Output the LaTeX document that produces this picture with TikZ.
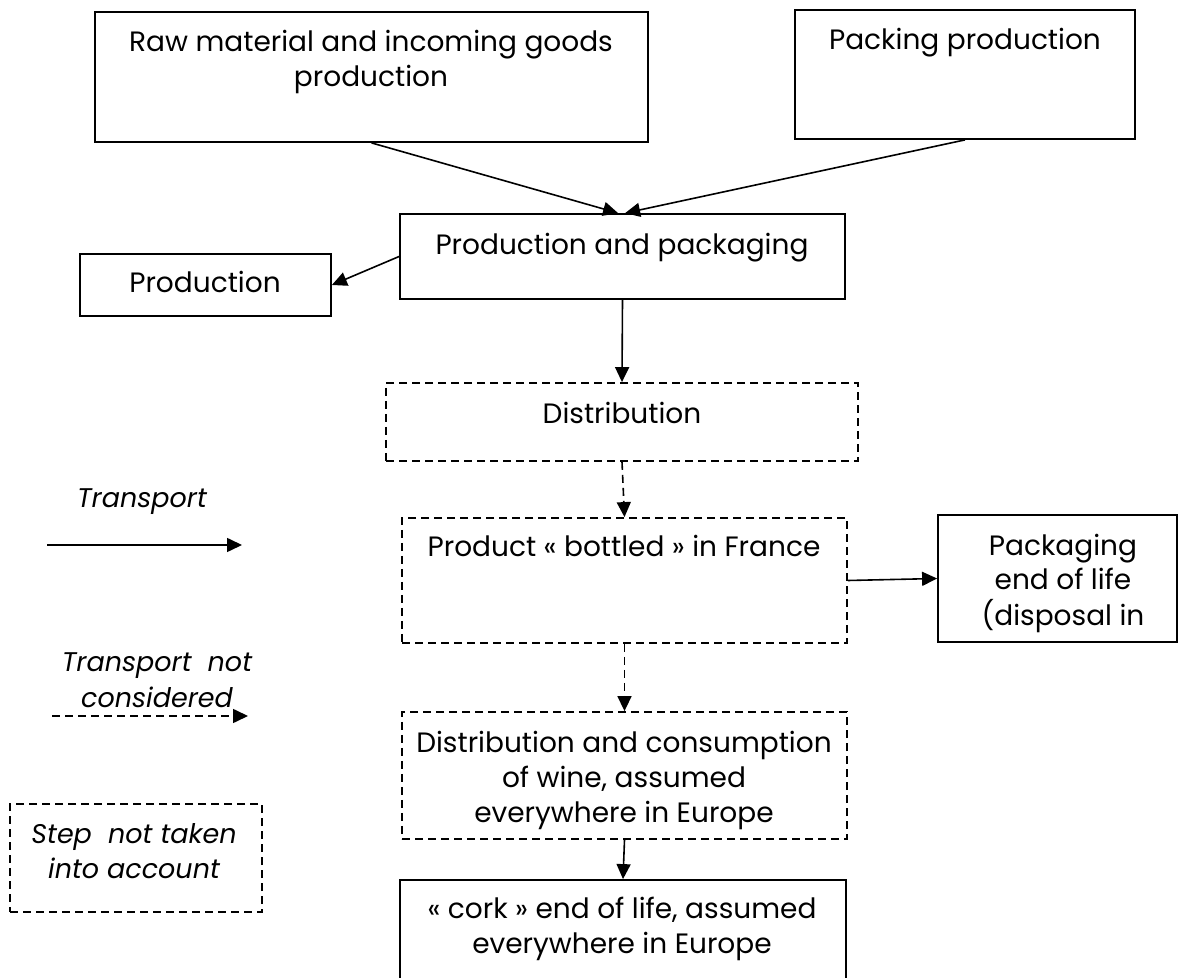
\documentclass[tikz,border=0pt]{standalone}
\usepackage{fontspec}
\setmainfont{Poppins}
\usetikzlibrary{arrows.meta, positioning, fit}

\begin{document}
\begin{tikzpicture}[
    x=0.5pt, y=-0.5pt,
    every node/.style={font=\fontsize{14}{17.5}\selectfont},
    box/.style={draw, line width=0.9pt, inner sep=0pt},
    skipbox/.style={box, dash pattern=on 4pt off 2.5pt},
    txt/.style={align=center, inner sep=0pt, anchor=base},
    legtxt/.style={txt, font=\fontsize{13.5}{17.5}\selectfont\itshape},
    flow/.style={line width=0.8pt, -{Triangle[length=7.5pt, width=7pt]}},
    noflow/.style={flow, dash pattern=on 4pt off 2.5pt},
]
\useasboundingbox (0,0) rectangle (1179,978);

% upstream steps (base = last line)
\node[box, fit={(95,12) (648,142)}] (raw) {};
\node[txt] (rawtxt) at (371,87) {Raw material and incoming goods\\production};
\node[box, fit={(795,10) (1135,139)}] (packing) {};
\node[txt] (packingtxt) at (965,50) {Packing production};

% bottling site
\node[box, fit={(400,214) (845,299)}] (prodpack) {};
\node[txt] (prodpacktxt) at (622,255) {Production and packaging};
\node[box, fit={(80,254) (331,316)}] (production) {};
\node[txt] (productiontxt) at (205,293) {Production};

% downstream, mostly left out
\node[skipbox, fit={(386,383) (858,461)}] (dist) {};
\node[txt] (disttxt) at (622,424) {Distribution};
\node[skipbox, fit={(402,518) (847,643)}] (bottled) {};
\node[txt] (bottledtxt) at (624,557) {Product « bottled » in France};
\node[box, fit={(938,515) (1177,642)}] (eol) {};
\node[txt] (eoltxt) at (1063,625) {Packaging\\end of life\\(disposal in};
\node[skipbox, fit={(402,712) (847,839)}] (distcons) {};
\node[txt] (distconstxt) at (624,822)
    {Distribution and consumption\\of wine, assumed\\everywhere in Europe};
\node[box, fit={(400,880) (846,1000)}] (cork) {};
\node[txt] (corktxt) at (622,953) {« cork » end of life, assumed\\everywhere in Europe};

\draw[flow] (raw.south) -- ([xshift=-2.2pt]prodpack.north);
\draw[flow] (packing.south) -- ([xshift=1.3pt]prodpack.north);
\draw[flow] (prodpack.west) -- (production.east);
\draw[flow] (prodpack.south) -- (dist.north);
\draw[noflow] (dist.south) -- (bottled.north);
\draw[flow] (bottled.east) -- (eol.west);
\draw[noflow] (bottled.south) -- (distcons.north);
\draw[flow] (distcons.south) -- (cork.north);

% legend
\node[legtxt] (legsolid) at (142,508) {Transport};
\coordinate (solidA) at (47,545);
\coordinate (solidB) at (242,545);
\draw[flow] (solidA) -- (solidB);
\node[legtxt] (legdash) at (157,707) {Transport~ not\\considered};
\coordinate (dashA) at (52,716);
\coordinate (dashB) at (248,716);
\draw[noflow] (dashA) -- (dashB);
\node[skipbox, fit={(10,804) (262,912)}] (legbox) {};
\node[legtxt] (legboxtxt) at (134,878) {Step~ not taken\\into account};
\end{tikzpicture}
\end{document}
